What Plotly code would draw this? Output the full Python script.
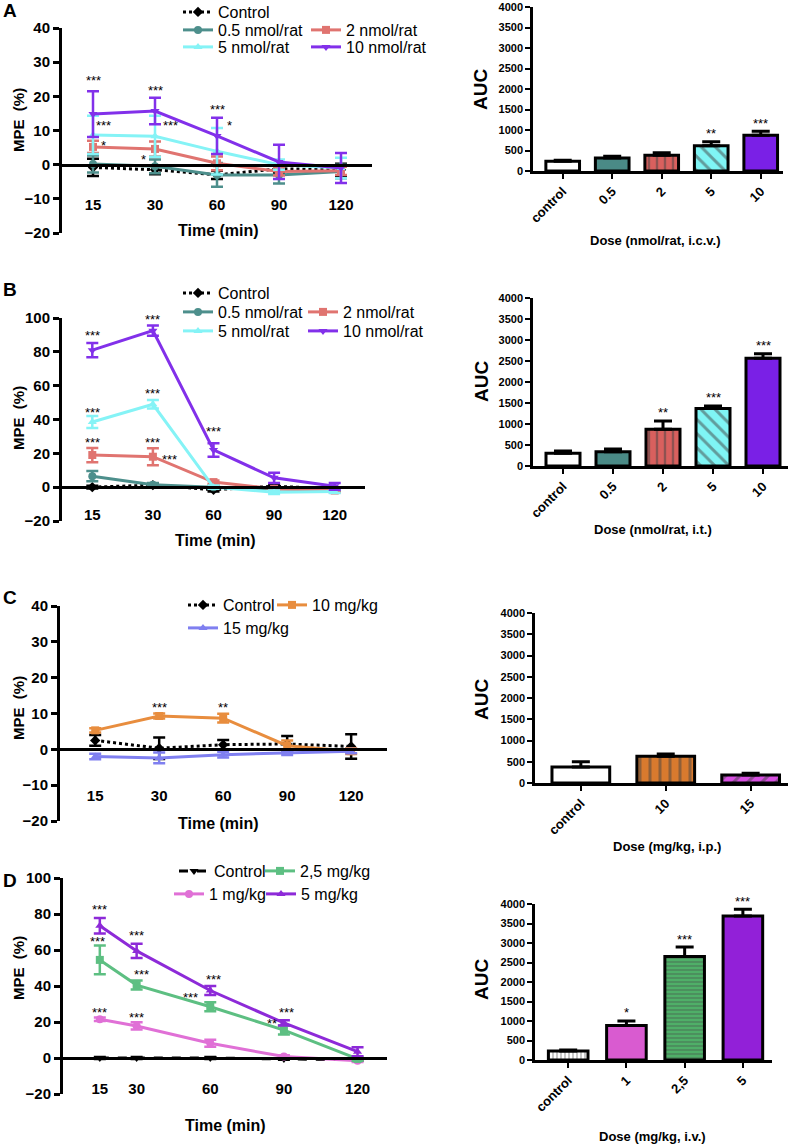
import plotly.graph_objects as go

W, H = 794, 1144
FONT = "Liberation Sans, Arial, sans-serif"

# ---------------- data ----------------
times = ["15", "30", "60", "90", "120"]
times_min = [15, 30, 60, 90, 120]

# A: i.c.v. (MPE %, mean / SEM)
a_names = ["Control", "0.5 nmol/rat", "2 nmol/rat", "5 nmol/rat", "10 nmol/rat"]
a_ctrl = [-0.8, -1.5, -3.0, -1.2, -1.5]
a_ctrl_err = [2.5, 1.3, 1.2, 1.3, 1.8]
a_05 = [0.2, -0.5, -3.0, -3.0, -2.0]
a_05_err = [2.5, 2.0, 3.5, 2.5, 2.0]
a_2 = [5.2, 4.6, 0.4, -2.0, -1.8]
a_2_err = [1.8, 2.2, 2.0, 1.2, 1.2]
a_5 = [8.7, 8.3, 3.9, 0.0, -1.0]
a_5_err = [5.6, 6.0, 6.8, 1.5, 3.0]
a_10 = [14.8, 15.7, 8.4, 0.8, -1.0]
a_10_err = [6.7, 3.9, 5.3, 5.0, 4.4]
a_doses = ["control", "0.5", "2", "5", "10"]
a_auc = [236, 317, 382, 618, 870]
a_auc_err = [24, 41, 65, 97, 97]
a_auc_stars = ["", "", "", "**", "***"]

# B: i.t.
b_names = ["Control", "0.5 nmol/rat", "2 nmol/rat", "5 nmol/rat", "10 nmol/rat"]
b_ctrl = [0.0, 1.2, -1.5, 0.5, -1.0]
b_ctrl_err = [0.8, 1.0, 1.0, 0.8, 1.0]
b_05 = [6.5, 1.5, 0.0, -1.0, -1.5]
b_05_err = [3.0, 1.0, 0.8, 0.8, 0.8]
b_2 = [19.0, 18.0, 3.0, -1.0, -2.0]
b_2_err = [4.2, 5.0, 1.0, 1.0, 1.0]
b_5 = [38.5, 49.0, 0.0, -3.0, -2.5]
b_5_err = [3.5, 2.5, 1.0, 1.0, 1.0]
b_10 = [81.0, 92.5, 22.0, 5.5, 0.5]
b_10_err = [4.2, 3.0, 4.0, 3.0, 2.0]
b_doses = ["control", "0.5", "2", "5", "10"]
b_auc = [302, 342, 874, 1367, 2568]
b_auc_err = [56, 63, 199, 64, 103]
b_auc_stars = ["", "", "**", "***", "***"]

# C: i.p.
c_names = ["Control", "10 mg/kg", "15 mg/kg"]
c_ctrl = [2.5, 0.3, 1.3, 1.5, 0.8]
c_ctrl_err = [1.5, 3.0, 1.3, 2.2, 3.4]
c_10 = [5.3, 9.3, 8.7, 1.0, -0.5]
c_10_err = [0.6, 0.7, 1.2, 1.5, 0.8]
c_15 = [-2.0, -2.4, -1.5, -1.0, -0.5]
c_15_err = [0.8, 1.5, 0.8, 0.6, 0.6]
c_doses = ["control", "10", "15"]
c_auc = [376, 627, 188]
c_auc_err = [126, 55, 39]
c_auc_stars = ["", "", ""]

# D: i.v.
d_names = ["Control", "1 mg/kg", "2,5 mg/kg", "5 mg/kg"]
d_ctrl = [0.0, 0.0, 0.0, -0.5, -1.0]
d_ctrl_err = [0.5, 0.5, 0.5, 0.5, 0.5]
d_1 = [21.5, 17.8, 8.2, 0.8, -1.5]
d_1_err = [1.0, 2.0, 2.0, 0.7, 0.7]
d_25 = [54.5, 40.5, 28.5, 15.5, -0.5]
d_25_err = [8.0, 2.5, 2.5, 2.5, 1.0]
d_5 = [73.5, 59.5, 37.5, 19.5, 3.5]
d_5_err = [4.3, 4.0, 2.5, 1.5, 2.5]
d_doses = ["control", "1", "2,5", "5"]
d_auc = [231, 882, 2655, 3692]
d_auc_err = [26, 120, 240, 171]
d_auc_stars = ["", "*", "***", "***"]

# ---------------- styles ----------------
BLACK = "black"
TEAL, SALMON, AQUA, VIOLET = "#4d8f8c", "#e07470", "#85f3f6", "#8230ea"
ORANGE, PERI = "#e88d3e", "#7f7ff0"
GREEN, PINK, PURPLE = "#5dbf82", "#e070d6", "#8d2ad8"

fig = go.Figure()


def ax(kind, n):
    return kind if n == 1 else f"{kind}{n}"


def tfont(size, bold=True):
    return dict(family=FONT, size=size, color=BLACK, weight="bold" if bold else "normal")


legend_count = [0]


def new_legend(text_x, cy):
    legend_count[0] += 1
    lid = "legend" if legend_count[0] == 1 else f"legend{legend_count[0]}"
    fig.update_layout({lid: dict(x=(text_x - 44) / W, y=1 - cy / H, xanchor="left",
                                 yanchor="middle", bgcolor="rgba(0,0,0,0)",
                                 font=dict(family=FONT, size=16, color=BLACK),
                                 itemwidth=30)})
    return lid


def line_panel(n, xvals, names, ys, errs, styles, legpos, stars,
               box, yrange, dtick, zero_px, ticklen, xaxis_extra):
    x0, x1, ytop, ybot = box
    for name, y, e, st, lp in zip(names, ys, errs, styles, legpos):
        color, symbol, dash = st
        fig.add_trace(go.Scatter(
            x=xvals, y=y, name=name, mode="lines+markers",
            line=dict(color=color, width=3, dash=dash),
            marker=dict(symbol=symbol, size=8, color=color),
            error_y=dict(type="data", array=e, color=color, thickness=2.5, width=6),
            xaxis=ax("x", n), yaxis=ax("y", n), legend=new_legend(*lp)))
    for si, pi, txt, dx, dy in stars:
        fig.add_annotation(x=xvals[pi] if not isinstance(xvals[pi], str) else pi,
                           y=ys[si][pi] + errs[si][pi], text=txt, showarrow=False,
                           xshift=dx, yshift=dy, font=dict(family=FONT, size=13, color=BLACK),
                           xref=ax("x", n), yref=ax("y", n))
    xa = dict(domain=[x0 / W, x1 / W], anchor="free", position=1 - zero_px / H,
              showline=True, linewidth=3, linecolor=BLACK, ticks="outside",
              ticklen=ticklen, tickcolor="rgba(0,0,0,0)", tickfont=tfont(15),
              showgrid=False, zeroline=False)
    xa.update(xaxis_extra)
    ya = dict(domain=[1 - ybot / H, 1 - ytop / H], range=yrange, dtick=dtick,
              anchor=ax("x", n), showline=True, linewidth=3, linecolor=BLACK,
              ticks="outside", ticklen=6, tickwidth=2.5, tickcolor=BLACK,
              tickfont=tfont(15), showgrid=False, zeroline=False)
    fig.update_layout({ax("xaxis", n): xa, ax("yaxis", n): ya})


def bar_panel(n, doses, vals, errs, stars, colors, shapes, psize, box, xrange):
    x0, x1, ytop, ybot = box
    fig.add_trace(go.Bar(
        x=doses, y=vals, width=0.68, showlegend=False,
        marker=dict(color=colors, line=dict(color=BLACK, width=3),
                    pattern=dict(shape=shapes, fgcolor=BLACK, size=psize,
                                 solidity=0.3, fillmode="overlay")),
        error_y=dict(type="data", array=errs, arrayminus=[0] * len(errs),
                     symmetric=False, color=BLACK, thickness=3, width=9),
        xaxis=ax("x", n), yaxis=ax("y", n)))
    for i, s in enumerate(stars):
        if s:
            fig.add_annotation(x=i, y=vals[i] + errs[i], text=s, showarrow=False, yshift=8,
                               font=dict(family=FONT, size=13, color=BLACK),
                               xref=ax("x", n), yref=ax("y", n))
    xa = dict(domain=[x0 / W, x1 / W], type="category", range=xrange, anchor=ax("y", n),
              showline=True, linewidth=2.5, linecolor=BLACK, ticks="outside", ticklen=5,
              tickwidth=2, tickcolor=BLACK, tickangle=-45, tickfont=tfont(13),
              showgrid=False, zeroline=False)
    ya = dict(domain=[1 - ybot / H, 1 - ytop / H], range=[0, 4000], dtick=500,
              anchor=ax("x", n), showline=True, linewidth=2.5, linecolor=BLACK,
              ticks="outside", ticklen=5, tickwidth=2, tickcolor=BLACK,
              tickfont=tfont(11), showgrid=False, zeroline=False)
    fig.update_layout({ax("xaxis", n): xa, ax("yaxis", n): ya})


cat_axis = dict(type="category", range=[-0.5, 4.5])

# ---- A ----
line_panel(1, times, a_names, [a_ctrl, a_05, a_2, a_5, a_10],
           [a_ctrl_err, a_05_err, a_2_err, a_5_err, a_10_err],
           [(BLACK, "diamond", "dot"), (TEAL, "circle", "solid"), (SALMON, "square", "solid"),
            (AQUA, "triangle-up", "solid"), (VIOLET, "triangle-down", "solid")],
           [(222, 12), (222, 30), (350, 30), (222, 47), (350, 47)],
           [(4, 0, "***", 0, 11), (3, 0, "***", 10, -10), (2, 0, "*", 10, -5),
            (4, 1, "***", 0, 7), (3, 1, "***", 15, -10), (2, 1, "*", -12, -18),
            (4, 2, "***", 0, 8), (3, 2, "*", 12, 3)],
           (62, 372, 28, 233), [-20, 40], 10, 165, 25, cat_axis)
bar_panel(2, a_doses, a_auc, a_auc_err, a_auc_stars,
          ["white", "#4a8a86", "#d9605e", "#7ff5f5", "#7a20e6"],
          ["", "", "|", "\\", ""], [8, 8, 8, 10, 8], (533, 783, 7, 171), [-0.6, 4.45])

# ---- B ----
line_panel(3, times, b_names, [b_ctrl, b_05, b_2, b_5, b_10],
           [b_ctrl_err, b_05_err, b_2_err, b_5_err, b_10_err],
           [(BLACK, "diamond", "dot"), (TEAL, "circle", "solid"), (SALMON, "square", "solid"),
            (AQUA, "triangle-up", "solid"), (VIOLET, "triangle-down", "solid")],
           [(222, 293), (222, 312), (347, 312), (222, 331), (347, 331)],
           [(4, 0, "***", 0, 8), (4, 1, "***", 0, 6), (3, 0, "***", 0, 4),
            (3, 1, "***", 0, 7), (2, 0, "***", 0, 5), (2, 1, "***", 0, 6),
            (2, 1, "***", 17, -11), (4, 2, "***", 0, 12)],
           (62, 365, 318, 521), [-20, 100], 20, 487, 13, cat_axis)
bar_panel(4, b_doses, b_auc, b_auc_err, b_auc_stars,
          ["white", "#4a8a86", "#d9605e", "#7ff5f5", "#7a20e6"],
          ["", "", "|", "\\", ""], [8, 8, 8, 10, 8], (533, 788, 298, 466), [-0.6, 4.5])

# ---- C ----
line_panel(5, times, c_names, [c_ctrl, c_10, c_15], [c_ctrl_err, c_10_err, c_15_err],
           [(BLACK, "diamond", "dot"), (ORANGE, "square", "solid"),
            (PERI, "triangle-up", "solid")],
           [(227, 605), (316, 605), (227, 628)],
           [(1, 1, "***", 0, 6), (1, 2, "**", 0, 6)],
           (60, 387, 606, 821), [-20, 40], 10, 749, 32,
           dict(type="category", range=[-0.55, 4.56]))
bar_panel(6, c_doses, c_auc, c_auc_err, c_auc_stars,
          ["white", "#d97a2e", "#d64fe0"], ["", "|", "/"], [8, 10, 10],
          (535, 788, 613, 783), [-0.54, 2.44])

# ---- D ----
line_panel(7, times_min, d_names, [d_ctrl, d_1, d_25, d_5],
           [d_ctrl_err, d_1_err, d_25_err, d_5_err],
           [(BLACK, "triangle-down", "dash"), (PINK, "circle", "solid"),
            (GREEN, "square", "solid"), (PURPLE, "triangle-up", "solid")],
           [(218, 871), (213, 894), (304, 871), (305, 894)],
           [(3, 0, "***", 0, 8), (2, 0, "***", -2, 4), (3, 1, "***", 0, 8),
            (2, 1, "***", 5, 6), (1, 0, "***", 0, 5), (1, 1, "***", 0, 5),
            (3, 2, "***", 3, 7), (2, 2, "***", -20, 5), (2, 3, "**", -12, 2),
            (3, 3, "***", 3, 8)],
           (63, 387, 878, 1094), [-20, 100], 20, 1058, 16,
           dict(type="linear", range=[0, 132], tickvals=times_min, ticktext=times))
bar_panel(8, d_doses, d_auc, d_auc_err, d_auc_stars,
          ["white", "#d95bd0", "#4faf68", "#9220d8"], ["|", "", "-", ""], [4, 8, 4, 8],
          (535, 772, 904, 1060), [-0.57, 3.5])


# ---- titles and panel letters ----
def label(text, xp, yp, size, angle=0, bold=True):
    fig.add_annotation(x=xp / W, y=1 - yp / H, xref="paper", yref="paper", text=text,
                       showarrow=False, textangle=angle, xanchor="center", yanchor="middle",
                       font=tfont(size, bold))


for letter, yp in [("A", 11), ("B", 289), ("C", 597), ("D", 880)]:
    label(letter, 10, yp, 19)
for xp, yp in [(218, 231), (215, 540), (218, 823), (226, 1125)]:
    label("Time (min)", xp, yp, 16)
for yp in [120, 418, 708, 968]:
    label("MPE\u00a0\u00a0(%)", 18, yp, 15, angle=-90)
for yp in [90, 382, 700, 980]:
    label("AUC", 481, yp, 19, angle=-90)
for text, xp, yp in [("Dose (nmol/rat, i.c.v.)", 655, 240), ("Dose (nmol/rat, i.t.)", 653, 529),
                     ("Dose (mg/kg, i.p.)", 667, 846), ("Dose (mg/kg, i.v.)", 652, 1136)]:
    label(text, xp, yp, 13)

fig.update_layout(width=W, height=H, autosize=False,
                  margin=dict(l=0, r=0, t=0, b=0, autoexpand=False),
                  paper_bgcolor="white", plot_bgcolor="white", showlegend=True,
                  font=dict(family=FONT, color=BLACK))

fig.write_html("out.html", config={"displayModeBar": False},
               post_script="document.body.style.margin='0';")
